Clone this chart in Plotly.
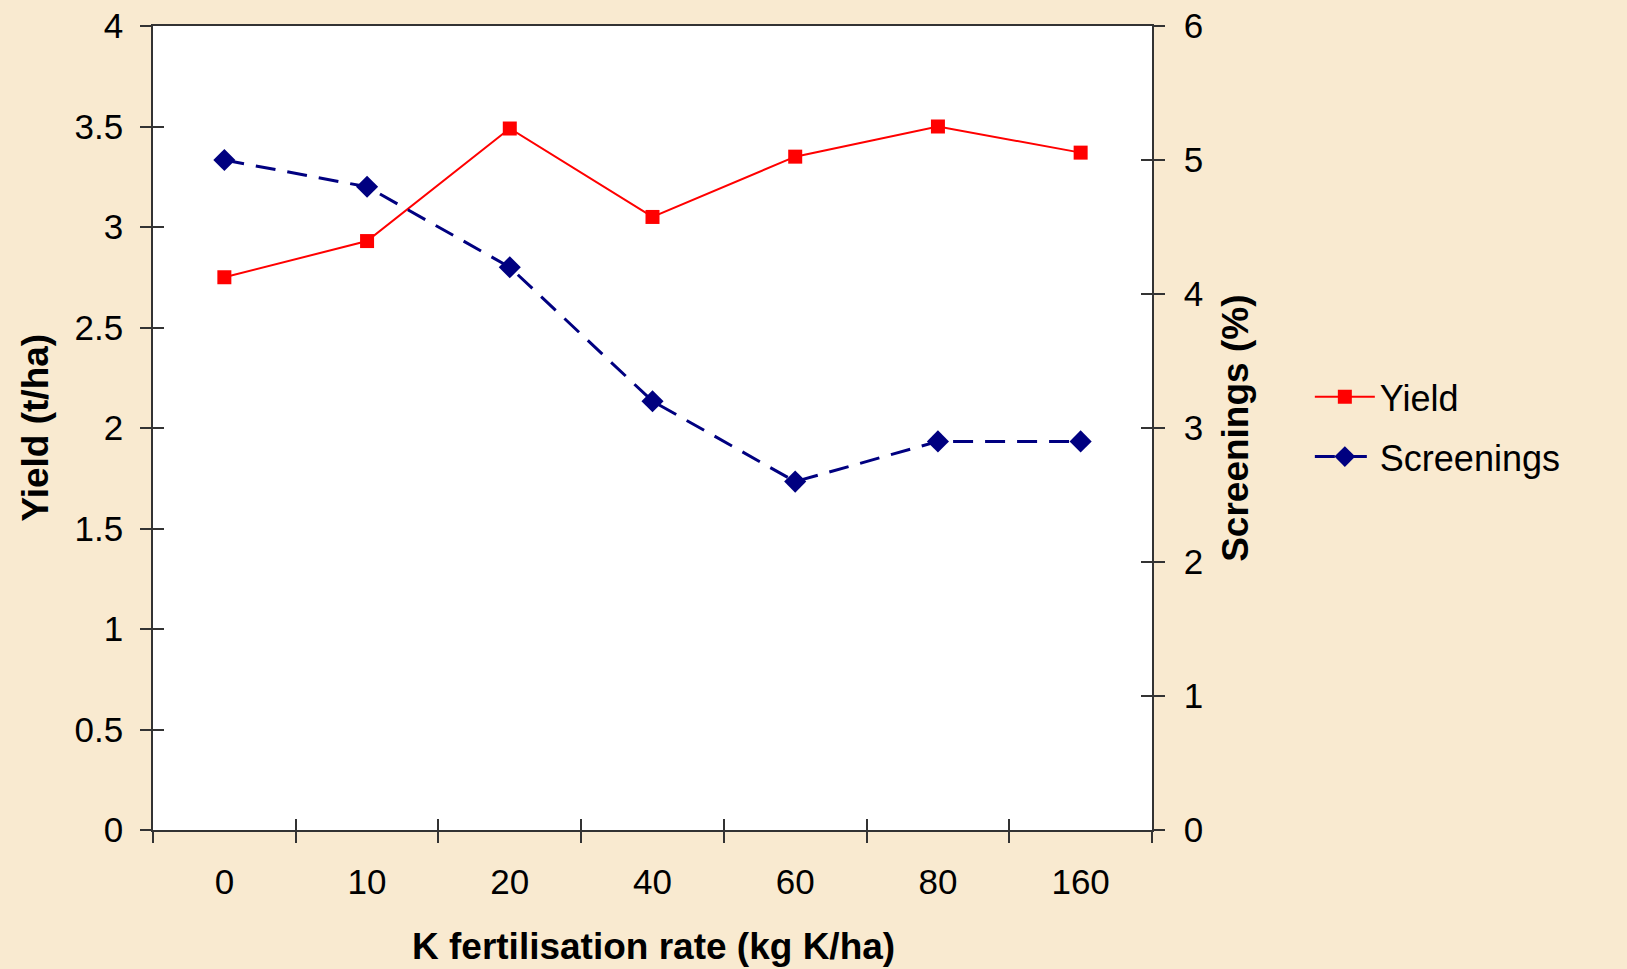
import plotly.graph_objects as go

categories = ["0", "10", "20", "40", "60", "80", "160"]
yield_t_ha = [2.75, 2.93, 3.49, 3.05, 3.35, 3.50, 3.37]
screenings_pct = [5.0, 4.8, 4.2, 3.2, 2.6, 2.9, 2.9]

yield_ticks = [0, 0.5, 1, 1.5, 2, 2.5, 3, 3.5, 4]
scr_ticks = [0, 1, 2, 3, 4, 5, 6]

FONT = "Liberation Sans, Arial, sans-serif"
BG = "#F9EAD0"
AX = "#333333"

fig = go.Figure()

fig.add_trace(go.Scatter(
    x=categories, y=yield_t_ha, name="Yield", mode="lines+markers",
    line=dict(color="#FF0000", width=2),
    marker=dict(symbol="square", size=14, color="#FF0000"),
    legendgroup="a", xaxis="x", yaxis="y",
))
fig.add_trace(go.Scatter(
    x=categories, y=screenings_pct, name="Screenings", mode="lines+markers",
    line=dict(color="#000080", width=3, dash="20px,12px"),
    marker=dict(symbol="diamond", size=17, color="#000080"),
    legendgroup="b", xaxis="x", yaxis="y2",
))
# invisible helper traces so the overlay axes (inner half of crossing ticks) render
fig.add_trace(go.Scatter(x=categories, y=yield_t_ha, xaxis="x2", yaxis="y3",
                         mode="markers", marker=dict(opacity=0), showlegend=False,
                         hoverinfo="skip"))
fig.add_trace(go.Scatter(x=categories, y=screenings_pct, xaxis="x2", yaxis="y4",
                         mode="markers", marker=dict(opacity=0), showlegend=False,
                         hoverinfo="skip"))

tickfont = dict(family=FONT, size=35, color="black")

fig.update_layout(
    width=1627, height=969,
    margin=dict(l=153, r=475, t=26, b=139, autoexpand=False),
    paper_bgcolor=BG, plot_bgcolor="white",
    font=dict(family=FONT, color="black"),
    showlegend=True,
    legend=dict(x=1.158, y=0.576, xanchor="left", yanchor="top",
                bgcolor="rgba(0,0,0,0)", font=dict(family=FONT, size=36),
                tracegroupgap=10, itemwidth=60),
    xaxis=dict(type="category", categoryorder="array", categoryarray=categories,
               range=[-0.5, 6.5], tickson="boundaries", automargin=False,
               ticks="outside", ticklen=11, tickwidth=1.5, tickcolor=AX,
               showline=True, linecolor=AX, linewidth=1.5, mirror=True,
               showgrid=False, zeroline=False, tickfont=tickfont,
               ticklabelstandoff=20),
    xaxis2=dict(type="category", categoryorder="array", categoryarray=categories,
                range=[-0.5, 6.5], tickson="boundaries", overlaying="x",
                anchor="y", side="bottom", automargin=False,
                ticks="inside", ticklen=11, tickwidth=1.5, tickcolor=AX,
                showticklabels=False, showline=False, showgrid=False, zeroline=False),
    yaxis=dict(range=[0, 4], tickvals=yield_ticks,
               ticktext=[f"{v:g}" for v in yield_ticks], automargin=False,
               ticks="outside", ticklen=11, tickwidth=1.5, tickcolor=AX,
               showline=True, linecolor=AX, linewidth=1.5,
               showgrid=False, zeroline=False, tickfont=tickfont,
               ticklabelstandoff=10),
    yaxis2=dict(range=[0, 6], tickvals=scr_ticks, overlaying="y", side="right",
                anchor="x", automargin=False,
                ticks="outside", ticklen=11, tickwidth=1.5, tickcolor=AX,
                showline=True, linecolor=AX, linewidth=1.5,
                showgrid=False, zeroline=False, tickfont=tickfont,
                ticklabelstandoff=12),
    yaxis3=dict(range=[0, 4], tickvals=yield_ticks, overlaying="y", side="left",
                anchor="x2", automargin=False,
                ticks="inside", ticklen=11, tickwidth=1.5, tickcolor=AX,
                showticklabels=False, showline=False, showgrid=False, zeroline=False),
    yaxis4=dict(range=[0, 6], tickvals=scr_ticks, overlaying="y", side="right",
                anchor="x2", automargin=False,
                ticks="inside", ticklen=11, tickwidth=1.5, tickcolor=AX,
                showticklabels=False, showline=False, showgrid=False, zeroline=False),
)

title_font = dict(family=FONT, size=37, color="black", weight="bold")
fig.add_annotation(text="Yield (t/ha)", xref="paper", yref="paper",
                   x=-0.1185, y=0.5, textangle=-90, showarrow=False,
                   font=title_font, xanchor="center", yanchor="middle")
fig.add_annotation(text="Screenings (%)", xref="paper", yref="paper",
                   x=1.0829, y=0.5, textangle=-90, showarrow=False,
                   font=title_font, xanchor="center", yanchor="middle")
fig.add_annotation(text="K fertilisation rate (kg K/ha)", xref="paper", yref="paper",
                   x=0.5014, y=-0.1443, showarrow=False,
                   font=title_font, xanchor="center", yanchor="middle")

fig.write_html("out.html")
